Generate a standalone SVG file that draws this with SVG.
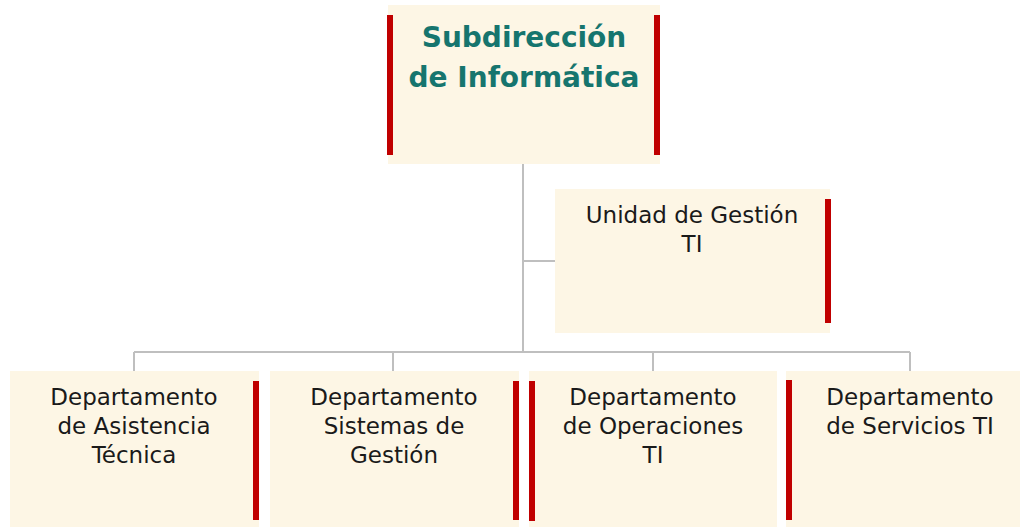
<svg xmlns="http://www.w3.org/2000/svg" width="1020" height="527" viewBox="0 0 1020 527">
<style>
.box{fill:#fdf6e5}
.bar{fill:#c00000}
.conn{stroke:#bfbfbf;stroke-width:2;fill:none}
.t{font-family:"DejaVu Sans","Liberation Sans",sans-serif;font-size:23px;fill:#1a1a1a;text-anchor:middle}
.title{font-family:"DejaVu Sans","Liberation Sans",sans-serif;font-size:28px;font-weight:bold;fill:#16756e;text-anchor:middle}
</style>
<rect width="1020" height="527" fill="#ffffff"/>
<g id="connectors">
<path class="conn" d="M523 163 V352"/>
<path class="conn" d="M523 261 H555"/>
<path class="conn" d="M134 352 H910"/>
<path class="conn" d="M134 352 V371 M393 352 V371 M653 352 V371 M910 352 V371"/>
</g>
<g id="subdireccion">
<rect class="box" x="388" y="5" width="272" height="159"/>
<rect class="bar" x="387" y="15" width="6" height="140"/>
<rect class="bar" x="654" y="15" width="6" height="140"/>
<text class="title" x="524" y="47">Subdirección</text>
<text class="title" x="524" y="87">de Informática</text>
</g>
<g id="unidad">
<rect class="box" x="555" y="189" width="275" height="144"/>
<rect class="bar" x="825" y="199" width="6" height="124"/>
<text class="t" x="692" y="223">Unidad de Gestión</text>
<text class="t" x="692" y="252">TI</text>
</g>
<g id="asistencia">
<rect class="box" x="10" y="371" width="249" height="156"/>
<rect class="bar" x="253" y="381" width="6" height="139"/>
<text class="t" x="134" y="405">Departamento</text>
<text class="t" x="134" y="434">de Asistencia</text>
<text class="t" x="134" y="463">Técnica</text>
</g>
<g id="sistemas">
<rect class="box" x="270" y="371" width="249" height="156"/>
<rect class="bar" x="513" y="381" width="6" height="139"/>
<text class="t" x="394" y="405">Departamento</text>
<text class="t" x="394" y="434">Sistemas de</text>
<text class="t" x="394" y="463">Gestión</text>
</g>
<g id="operaciones">
<rect class="box" x="529" y="371" width="248" height="156"/>
<rect class="bar" x="529" y="381" width="6" height="140"/>
<text class="t" x="653" y="405">Departamento</text>
<text class="t" x="653" y="434">de Operaciones</text>
<text class="t" x="653" y="463">TI</text>
</g>
<g id="servicios">
<rect class="box" x="786" y="371" width="234" height="156"/>
<rect class="bar" x="786" y="380" width="6" height="140"/>
<text class="t" x="910" y="405">Departamento</text>
<text class="t" x="910" y="434">de Servicios TI</text>
</g>
</svg>
